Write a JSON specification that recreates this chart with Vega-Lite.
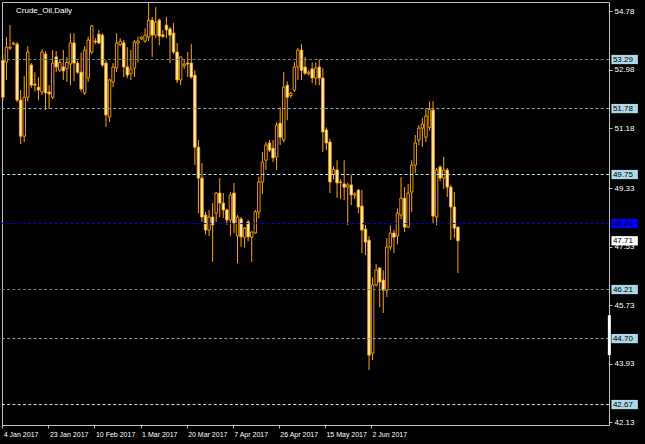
{
  "$schema": "https://vega.github.io/schema/vega-lite/v6.json",
  "width": 607,
  "height": 423,
  "autosize": {"type": "none"},
  "padding": {"left": 2, "top": 2, "right": 36, "bottom": 19},
  "background": "#000000",
  "title": {
    "text": "Crude_Oil,Daily",
    "anchor": "start",
    "frame": "group",
    "baseline": "top",
    "offset": -13,
    "dx": 14,
    "font": "Liberation Sans",
    "fontSize": 8,
    "fontWeight": "normal",
    "color": "#ffffff"
  },
  "config": {
    "view": {"stroke": "#c0c0c0", "strokeWidth": 1},
    "axis": {
      "labelFont": "Liberation Sans",
      "labelFontSize": 8,
      "labelColor": "#ffffff",
      "tickColor": "#c0c0c0",
      "tickSize": 3,
      "domain": false,
      "grid": false,
      "labelOverlap": false,
      "labelBound": false
    }
  },
  "datasets": {
    "candles": [
      {"i": 0, "o": 53.27, "h": 53.43, "l": 52.04, "c": 52.13},
      {"i": 1, "o": 53.21, "h": 53.98, "l": 52.66, "c": 53.67},
      {"i": 2, "o": 53.64, "h": 54.35, "l": 53.58, "c": 53.67},
      {"i": 3, "o": 53.76, "h": 53.83, "l": 53.73, "c": 53.8},
      {"i": 4, "o": 53.76, "h": 53.83, "l": 51.98, "c": 52.04},
      {"i": 5, "o": 52.04, "h": 52.35, "l": 50.69, "c": 50.93},
      {"i": 6, "o": 50.93, "h": 52.78, "l": 50.75, "c": 52.13},
      {"i": 7, "o": 52.13, "h": 53.7, "l": 52.0, "c": 53.52},
      {"i": 8, "o": 53.12, "h": 53.18, "l": 52.41, "c": 52.5},
      {"i": 9, "o": 52.53, "h": 52.9, "l": 52.3, "c": 52.5},
      {"i": 10, "o": 52.44, "h": 52.75, "l": 52.04, "c": 52.35},
      {"i": 11, "o": 52.29, "h": 53.6, "l": 52.2, "c": 53.52},
      {"i": 12, "o": 53.46, "h": 53.55, "l": 51.73, "c": 52.26},
      {"i": 13, "o": 52.29, "h": 52.5, "l": 51.76, "c": 52.23},
      {"i": 14, "o": 52.13, "h": 53.58, "l": 52.07, "c": 53.18},
      {"i": 15, "o": 53.37, "h": 53.55, "l": 52.9, "c": 53.06},
      {"i": 16, "o": 52.96, "h": 53.3, "l": 52.9, "c": 53.2},
      {"i": 17, "o": 53.06, "h": 53.58, "l": 52.66, "c": 52.94},
      {"i": 18, "o": 53.0, "h": 53.37, "l": 52.6, "c": 53.2},
      {"i": 19, "o": 53.15, "h": 54.1, "l": 52.5, "c": 53.8},
      {"i": 20, "o": 53.8, "h": 54.1, "l": 52.62, "c": 53.18},
      {"i": 21, "o": 53.18, "h": 53.25, "l": 52.85, "c": 52.9},
      {"i": 22, "o": 52.9, "h": 53.5, "l": 52.3, "c": 52.38},
      {"i": 23, "o": 52.26, "h": 53.7, "l": 52.2, "c": 53.58},
      {"i": 24, "o": 52.72, "h": 54.0, "l": 52.6, "c": 53.89},
      {"i": 25, "o": 53.52, "h": 54.35, "l": 53.46, "c": 54.32},
      {"i": 26, "o": 53.86, "h": 53.95, "l": 53.76, "c": 53.83},
      {"i": 27, "o": 54.07, "h": 54.2, "l": 53.76, "c": 53.8},
      {"i": 28, "o": 54.04, "h": 54.1, "l": 53.06, "c": 53.12},
      {"i": 29, "o": 53.18, "h": 53.27, "l": 51.21, "c": 51.58},
      {"i": 30, "o": 51.52, "h": 52.7, "l": 51.36, "c": 52.66},
      {"i": 31, "o": 52.6, "h": 53.18, "l": 52.44, "c": 53.06},
      {"i": 32, "o": 53.03, "h": 54.1, "l": 52.9, "c": 53.8},
      {"i": 33, "o": 53.75, "h": 53.95, "l": 53.7, "c": 53.85},
      {"i": 34, "o": 53.8, "h": 53.89, "l": 52.75, "c": 53.06},
      {"i": 35, "o": 53.06, "h": 53.67, "l": 52.72, "c": 52.81},
      {"i": 36, "o": 52.85, "h": 53.58, "l": 52.66, "c": 53.0},
      {"i": 37, "o": 53.03, "h": 53.89, "l": 52.75, "c": 53.83},
      {"i": 38, "o": 53.8, "h": 54.0, "l": 53.2, "c": 53.86},
      {"i": 39, "o": 53.92, "h": 54.0, "l": 53.9, "c": 53.98},
      {"i": 40, "o": 53.86, "h": 54.25, "l": 53.8, "c": 54.04},
      {"i": 41, "o": 53.98, "h": 55.03, "l": 53.86, "c": 54.5},
      {"i": 42, "o": 54.5, "h": 54.6, "l": 53.37, "c": 54.04},
      {"i": 43, "o": 54.04, "h": 54.9, "l": 53.95, "c": 54.44},
      {"i": 44, "o": 54.5, "h": 54.55, "l": 53.73, "c": 54.01},
      {"i": 45, "o": 54.05, "h": 54.2, "l": 53.95, "c": 54.0},
      {"i": 46, "o": 54.35, "h": 54.6, "l": 53.95, "c": 54.2},
      {"i": 47, "o": 54.23, "h": 54.3, "l": 53.18, "c": 54.04},
      {"i": 48, "o": 54.1, "h": 54.41, "l": 53.46, "c": 53.52},
      {"i": 49, "o": 53.52, "h": 53.8, "l": 52.56, "c": 52.66},
      {"i": 50, "o": 52.66, "h": 53.37, "l": 52.5, "c": 53.37},
      {"i": 51, "o": 53.1, "h": 53.3, "l": 53.0, "c": 53.15},
      {"i": 52, "o": 53.18, "h": 53.52, "l": 52.75, "c": 53.15},
      {"i": 53, "o": 53.18, "h": 53.76, "l": 52.7, "c": 52.75},
      {"i": 54, "o": 52.81, "h": 52.96, "l": 50.04, "c": 50.59},
      {"i": 55, "o": 50.59, "h": 50.81, "l": 48.56, "c": 49.64},
      {"i": 56, "o": 49.64, "h": 50.1, "l": 48.29, "c": 48.44},
      {"i": 57, "o": 48.5, "h": 48.6, "l": 47.9, "c": 48.04},
      {"i": 58, "o": 48.04, "h": 48.66, "l": 47.86, "c": 48.44},
      {"i": 59, "o": 48.44, "h": 48.87, "l": 47.06, "c": 48.2},
      {"i": 60, "o": 48.56, "h": 49.21, "l": 48.29, "c": 49.18},
      {"i": 61, "o": 49.18, "h": 49.64, "l": 48.44, "c": 48.87},
      {"i": 62, "o": 48.87, "h": 49.18, "l": 48.41, "c": 48.66},
      {"i": 63, "o": 48.66, "h": 48.7, "l": 48.2, "c": 48.35},
      {"i": 64, "o": 48.35, "h": 49.2, "l": 47.86, "c": 49.12},
      {"i": 65, "o": 49.18, "h": 49.49, "l": 47.95, "c": 48.26},
      {"i": 66, "o": 47.86, "h": 48.5, "l": 47.02, "c": 48.44},
      {"i": 67, "o": 48.38, "h": 48.44, "l": 47.52, "c": 47.83},
      {"i": 68, "o": 47.82, "h": 48.13, "l": 47.5, "c": 48.1},
      {"i": 69, "o": 48.29, "h": 48.35, "l": 47.7, "c": 47.83},
      {"i": 70, "o": 47.82, "h": 48.0, "l": 47.06, "c": 47.98},
      {"i": 71, "o": 47.95, "h": 48.66, "l": 47.92, "c": 48.6},
      {"i": 72, "o": 48.6, "h": 49.68, "l": 48.41, "c": 49.52},
      {"i": 73, "o": 49.52, "h": 50.44, "l": 49.14, "c": 50.13},
      {"i": 74, "o": 50.19, "h": 50.75, "l": 49.89, "c": 50.66},
      {"i": 75, "o": 50.72, "h": 50.81, "l": 50.44, "c": 50.5},
      {"i": 76, "o": 50.56, "h": 50.81, "l": 50.13, "c": 50.26},
      {"i": 77, "o": 50.29, "h": 51.36, "l": 49.89, "c": 51.27},
      {"i": 78, "o": 51.33, "h": 51.82, "l": 50.66, "c": 50.9},
      {"i": 79, "o": 50.81, "h": 52.9, "l": 50.75, "c": 52.44},
      {"i": 80, "o": 52.5, "h": 52.62, "l": 51.42, "c": 52.13},
      {"i": 81, "o": 52.18, "h": 52.3, "l": 52.1, "c": 52.25},
      {"i": 82, "o": 52.35, "h": 53.21, "l": 52.29, "c": 53.06},
      {"i": 83, "o": 53.06, "h": 53.64, "l": 52.66, "c": 53.58},
      {"i": 84, "o": 53.58, "h": 53.76, "l": 52.66, "c": 52.96},
      {"i": 85, "o": 53.06, "h": 53.37, "l": 52.81, "c": 52.87},
      {"i": 86, "o": 52.85, "h": 52.95, "l": 52.8, "c": 52.9},
      {"i": 87, "o": 53.0, "h": 53.2, "l": 52.56, "c": 52.72},
      {"i": 88, "o": 52.72, "h": 53.2, "l": 52.5, "c": 53.03},
      {"i": 89, "o": 53.06, "h": 53.3, "l": 52.5, "c": 52.72},
      {"i": 90, "o": 52.72, "h": 53.03, "l": 50.44, "c": 51.06},
      {"i": 91, "o": 51.12, "h": 51.2, "l": 50.5, "c": 50.72},
      {"i": 92, "o": 50.75, "h": 50.85, "l": 49.18, "c": 49.52},
      {"i": 93, "o": 49.75, "h": 50.0, "l": 49.6, "c": 49.9},
      {"i": 94, "o": 49.89, "h": 50.19, "l": 49.03, "c": 49.49},
      {"i": 95, "o": 49.5, "h": 49.6, "l": 49.0, "c": 49.52},
      {"i": 96, "o": 49.46, "h": 50.19, "l": 48.96, "c": 49.36},
      {"i": 97, "o": 49.36, "h": 49.5, "l": 48.19, "c": 49.43},
      {"i": 98, "o": 49.43, "h": 49.73, "l": 48.81, "c": 49.12},
      {"i": 99, "o": 49.12, "h": 49.2, "l": 49.0, "c": 49.15},
      {"i": 100, "o": 49.27, "h": 49.3, "l": 48.56, "c": 48.75},
      {"i": 101, "o": 48.78, "h": 49.27, "l": 47.33, "c": 48.04},
      {"i": 102, "o": 48.07, "h": 48.2, "l": 47.27, "c": 47.67},
      {"i": 103, "o": 47.73, "h": 47.85, "l": 43.73, "c": 44.19},
      {"i": 104, "o": 44.25, "h": 46.59, "l": 44.04, "c": 46.35},
      {"i": 105, "o": 46.35, "h": 47.0, "l": 46.3, "c": 46.81},
      {"i": 106, "o": 46.87, "h": 46.9, "l": 45.67, "c": 46.44},
      {"i": 107, "o": 46.5, "h": 46.8, "l": 45.49, "c": 46.19},
      {"i": 108, "o": 46.19, "h": 47.79, "l": 45.98, "c": 47.52},
      {"i": 109, "o": 47.52, "h": 48.19, "l": 47.42, "c": 47.95},
      {"i": 110, "o": 47.95, "h": 48.05, "l": 47.33, "c": 47.82},
      {"i": 111, "o": 47.86, "h": 48.7, "l": 47.6, "c": 48.56},
      {"i": 112, "o": 48.5, "h": 49.67, "l": 48.38, "c": 49.02},
      {"i": 113, "o": 49.02, "h": 49.36, "l": 47.98, "c": 48.13},
      {"i": 114, "o": 48.13, "h": 49.46, "l": 48.1, "c": 49.18},
      {"i": 115, "o": 49.21, "h": 50.19, "l": 48.6, "c": 50.04},
      {"i": 116, "o": 50.04, "h": 50.96, "l": 49.79, "c": 50.72},
      {"i": 117, "o": 50.81, "h": 51.27, "l": 50.66, "c": 51.18},
      {"i": 118, "o": 51.18, "h": 51.5, "l": 50.6, "c": 51.3},
      {"i": 119, "o": 50.9, "h": 51.79, "l": 50.75, "c": 51.55},
      {"i": 120, "o": 51.2, "h": 52.0, "l": 51.1, "c": 51.76},
      {"i": 121, "o": 51.73, "h": 52.01, "l": 48.25, "c": 48.47},
      {"i": 122, "o": 48.44, "h": 49.95, "l": 48.19, "c": 49.89},
      {"i": 123, "o": 49.98, "h": 50.04, "l": 49.55, "c": 49.64},
      {"i": 124, "o": 49.64, "h": 50.29, "l": 49.3, "c": 49.89},
      {"i": 125, "o": 49.89, "h": 49.95, "l": 49.06, "c": 49.36},
      {"i": 126, "o": 49.36, "h": 49.43, "l": 47.73, "c": 48.75},
      {"i": 127, "o": 48.75, "h": 49.21, "l": 47.79, "c": 48.1},
      {"i": 128, "o": 48.13, "h": 48.15, "l": 46.72, "c": 47.71}
    ],
    "levels": [
      {"price": 53.29, "group": "a"},
      {"price": 51.78, "group": "b"},
      {"price": 49.75, "group": "c"},
      {"price": 48.24, "group": "pivot"},
      {"price": 46.21, "group": "a"},
      {"price": 44.7, "group": "b"},
      {"price": 42.67, "group": "c"},
      {"price": 47.71, "group": "bid"}
    ]
  },
  "layer": [
    {
      "data": {"name": "candles"},
      "mark": {"type": "rule", "color": "#ffa500", "strokeWidth": 1},
      "encoding": {
        "x": {
          "field": "i",
          "type": "quantitative",
          "title": null,
          "scale": {"domain": [-0.25, 170.5], "nice": false, "zero": false, "padding": 0},
          "axis": {
            "orient": "bottom",
            "values": [-0.17, 12.8, 25.76, 38.73, 51.69, 64.66, 77.62, 90.59, 103.55],
            "labelExpr": "['4 Jan 2017','23 Jan 2017','10 Feb 2017','1 Mar 2017','20 Mar 2017','7 Apr 2017','26 Apr 2017','15 May 2017','2 Jun 2017'][round((datum.value + 0.17) / 12.965)]",
            "labelAlign": "left",
            "labelBaseline": "top",
            "labelFontSize": 7,
            "labelOffset": 1,
            "labelPadding": 2
          }
        },
        "y": {
          "field": "l",
          "type": "quantitative",
          "title": null,
          "scale": {"domain": [42.04, 55.06], "nice": false, "zero": false, "padding": 0},
          "axis": {
            "orient": "right",
            "values": [54.78, 53.88, 52.98, 52.08, 51.18, 50.23, 49.33, 48.43, 47.53, 46.63, 45.73, 44.83, 43.93, 43.03, 42.13],
            "format": ".2f",
            "labelPadding": 2,
            "labelBaseline": "middle"
          }
        },
        "y2": {"field": "h"}
      }
    },
    {
      "data": {"name": "candles"},
      "mark": {"type": "bar", "width": 2.5, "stroke": "#ffa500", "strokeWidth": 0.9},
      "encoding": {
        "x": {"field": "i", "type": "quantitative", "title": null},
        "y": {"field": "o", "type": "quantitative", "title": null},
        "y2": {"field": "c"},
        "fill": {
          "condition": {"test": "datum.c < datum.o", "value": "#fff3cc"},
          "value": "#000000"
        }
      }
    },
    {
      "data": {"name": "levels"},
      "transform": [{"filter": "datum.group != 'bid'"}],
      "mark": {"type": "rule", "strokeDash": [3, 2.3], "strokeWidth": 1},
      "encoding": {
        "y": {"field": "price", "type": "quantitative", "title": null},
        "color": {
          "field": "group",
          "type": "nominal",
          "legend": null,
          "scale": {
            "domain": ["a", "b", "c", "pivot"],
            "range": ["#62848b", "#80aab4", "#b8e9f2", "#0000e6"]
          }
        }
      }
    },
    {
      "data": {"values": [{"top": 45.42, "bottom": 44.19}]},
      "mark": {"type": "rule", "color": "#ffffff", "strokeWidth": 3},
      "encoding": {
        "x": {"datum": 170.6},
        "y": {"field": "top", "type": "quantitative", "title": null},
        "y2": {"field": "bottom"}
      }
    },
    {
      "data": {"name": "levels"},
      "mark": {
        "type": "point",
        "shape": "M-1,-0.35H1V0.35H-1Z",
        "size": 700,
        "filled": true,
        "opacity": 1,
        "strokeWidth": 0
      },
      "encoding": {
        "x": {"datum": 174.9},
        "y": {"field": "price", "type": "quantitative", "title": null},
        "fill": {
          "field": "group",
          "type": "nominal",
          "legend": null,
          "scale": {
            "domain": ["a", "b", "c", "pivot", "bid"],
            "range": ["#add8e6", "#add8e6", "#add8e6", "#0000ff", "#ffffff"]
          }
        }
      }
    },
    {
      "data": {"name": "levels"},
      "mark": {
        "type": "text",
        "align": "left",
        "baseline": "middle",
        "font": "Liberation Sans",
        "fontSize": 8,
        "color": "#000000"
      },
      "encoding": {
        "x": {"datum": 171.6},
        "y": {"field": "price", "type": "quantitative", "title": null},
        "text": {"field": "price", "type": "quantitative", "format": ".2f"}
      }
    }
  ]
}
